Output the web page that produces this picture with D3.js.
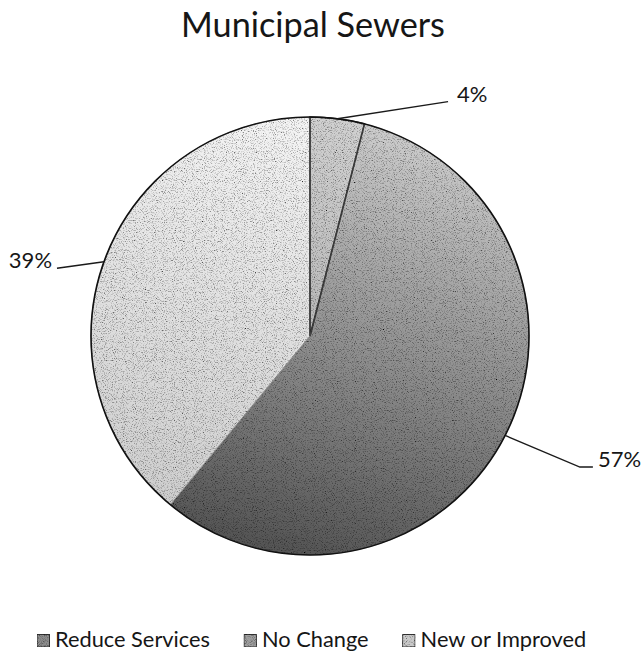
<!DOCTYPE html>
<html>
<head>
<meta charset="utf-8">
<script src="https://cdn.jsdelivr.net/npm/d3@7"></script>
<style>
  html, body { margin: 0; padding: 0; background: #fff; }
  svg { display: block; }
  text { font-family: Lato, "Open Sans", sans-serif; fill: #161616; }
</style>
</head>
<body>
<svg id="chart" width="641" height="656"></svg>
<script>
// ---- data ----
const categories = ["Reduce Services", "No Change", "New or Improved"];
const values = [4, 57, 39];
const labels = ["4%", "57%", "39%"];
const title = "Municipal Sewers";

// ---- layout / style ----
const W = 641, H = 656;
const cx = 310, cy = 336, R = 219;
const gradStops = [
  ["#d2d2d2", "#9e9e9e"],
  ["#cecece", "#525252"],
  ["#f6f6f6", "#cccccc"]
];
const legendFill = ["#8c8c8c", "#9e9e9e", "#cacaca"];
// leader line elbow: [angle (deg, clockwise from top), radius factor], text side
const elbow = [[30.5, 1.242, "right"], [115.9, 1.37, "right"], [285.0, 1.196, "left"]];

const svg = d3.select("#chart");
const defs = svg.append("defs");

// grain filter to imitate the scanned stipple
const f = defs.append("filter").attr("id", "grain")
  .attr("x", 0).attr("y", 0).attr("width", 1).attr("height", 1);
f.append("feTurbulence").attr("type", "fractalNoise").attr("baseFrequency", 0.9)
  .attr("numOctaves", 2).attr("seed", 7).attr("result", "noise");
f.append("feColorMatrix").attr("in", "noise").attr("type", "matrix")
  .attr("values", "2.4 0 0 0 -0.22  2.4 0 0 0 -0.22  2.4 0 0 0 -0.22  0 0 0 0 1")
  .attr("result", "gnoise");
f.append("feBlend").attr("in", "SourceGraphic").attr("in2", "gnoise").attr("mode", "multiply").attr("result", "b");
f.append("feComposite").attr("in", "b").attr("in2", "SourceGraphic").attr("operator", "in");

// gradients in the pie group's local coordinates (centre at 0,0)
gradStops.forEach((s, i) => {
  const g = defs.append("linearGradient").attr("id", "g" + i)
    .attr("gradientUnits", "userSpaceOnUse")
    .attr("x1", 0.25 * R).attr("y1", -R).attr("x2", -0.25 * R).attr("y2", R);
  g.append("stop").attr("offset", "0%").attr("stop-color", s[0]);
  g.append("stop").attr("offset", "100%").attr("stop-color", s[1]);
});

// title
const titleText = svg.append("text")
  .attr("x", 313).attr("y", 37).attr("text-anchor", "middle")
  .style("font-size", "36px").text(title);
(function fit(t, target) {
  const w = t.node().getComputedTextLength();
  t.style("font-size", (36 * target / w).toFixed(2) + "px");
})(titleText, 264);

// pie
const pie = d3.pie().sort(null).value(d => d)(values);
const arc = d3.arc().innerRadius(0).outerRadius(R);
const g = svg.append("g").attr("transform", `translate(${cx},${cy})`);

g.selectAll("path.slice").data(pie).join("path")
  .attr("class", "slice")
  .attr("d", arc)
  .attr("fill", (d, i) => `url(#g${i})`)
  .attr("filter", "url(#grain)")
  .attr("stroke", "none");

// slice borders
g.selectAll("path.border").data(pie).join("path")
  .attr("class", "border")
  .attr("d", arc)
  .attr("fill", "none")
  .attr("stroke", (d, i) => i === 0 ? "#1a1a1a" : "#666")
  .attr("stroke-width", (d, i) => i === 0 ? 1.6 : 0.5);
g.append("circle").attr("r", R).attr("fill", "none")
  .attr("stroke", "#111").attr("stroke-width", 1.6);

// labels with leader lines
const rad = a => a * Math.PI / 180;
const labelFont = 22;
pie.forEach((d, i) => {
  const mid = (d.startAngle + d.endAngle) / 2;
  const p0 = [R * Math.sin(mid), -R * Math.cos(mid)];
  const [ang, k, side] = elbow[i];
  const p1 = [R * k * Math.sin(rad(ang)), -R * k * Math.cos(rad(ang))];
  const pts = [p0, p1];
  const dir = side === "right" ? 1 : -1;
  if (i === 1) pts.push([p1[0] + 13, p1[1]]);
  g.append("path").attr("d", d3.line()(pts))
    .attr("fill", "none").attr("stroke", "#1a1a1a").attr("stroke-width", 1.4);
  const last = pts[pts.length - 1];
  g.append("text")
    .attr("x", last[0] + dir * (i === 0 ? 9 : 5))
    .attr("y", last[1])
    .attr("text-anchor", side === "right" ? "start" : "end")
    .style("font-size", labelFont + "px")
    .text(labels[i]);
});

// legend
const lg = svg.append("g").attr("class", "legend");
const probe = lg.append("text").style("font-size", "20px").text(categories[0]);
const legendFontSize = 20 * 155 / probe.node().getComputedTextLength();
probe.remove();
let lx = 37;
const ly = 647;
categories.forEach((c, i) => {
  lg.append("rect").attr("x", lx).attr("y", ly - 12.5).attr("width", 12.5).attr("height", 12.5)
    .attr("fill", legendFill[i]).attr("filter", "url(#grain)")
    .attr("stroke", "#333").attr("stroke-width", 1);
  const t = lg.append("text").attr("x", lx + 18).attr("y", ly)
    .style("font-size", legendFontSize.toFixed(2) + "px").text(c);
  lx += 18 + t.node().getComputedTextLength() + 34;
});
</script>
</body>
</html>
